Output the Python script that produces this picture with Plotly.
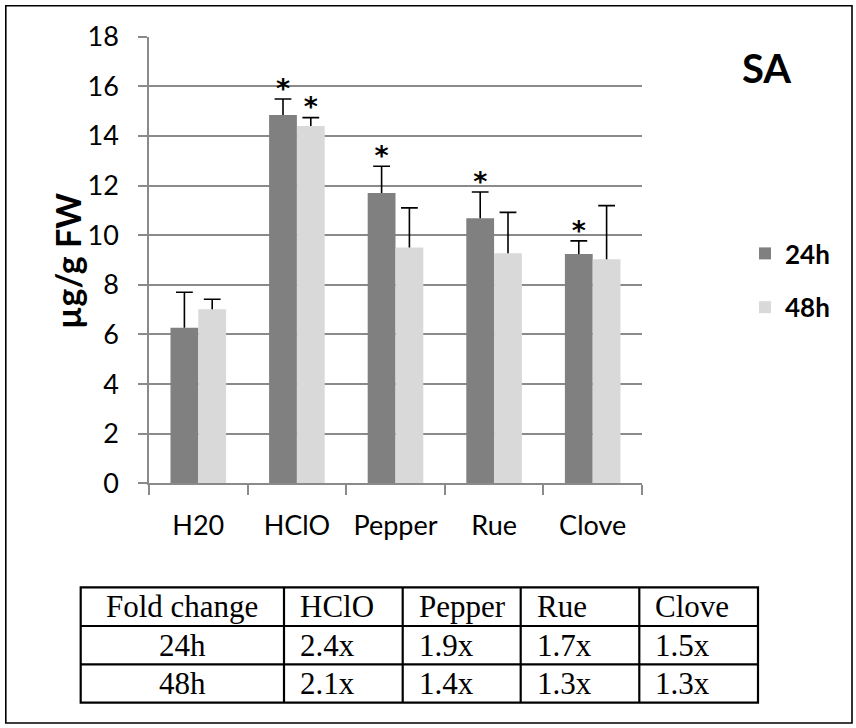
import plotly.graph_objects as go

# Salicylic acid content (µg/g FW) after treatment
treatments = ["H20", "HClO", "Pepper", "Rue", "Clove"]
sa_24h = [6.27, 14.84, 11.70, 10.68, 9.24]
sa_24h_err = [1.43, 0.65, 1.08, 1.06, 0.53]
sa_48h = [7.01, 14.40, 9.50, 9.27, 9.03]
sa_48h_err = [0.41, 0.34, 1.60, 1.65, 2.16]
# significance flags (drawn as asterisks above the error bars)
sig_24h = [False, True, True, True, True]
sig_48h = [False, True, False, False, False]

# fold-change table
table_header = ["Fold change", "HClO", "Pepper", "Rue", "Clove"]
table_rows = [
    ["24h", "2.4x", "1.9x", "1.7x", "1.5x"],
    ["48h", "2.1x", "1.4x", "1.3x", "1.3x"],
]

W, H = 856, 728
DARK, LIGHT = "#808080", "#d9d9d9"
GRID = "#8a8a8a"
FONT = "Lato"
SERIF = "Liberation Serif"

# table grid (pixels from top-left of the figure)
TABLE_COL_EDGES = [80.7, 284, 402.7, 520.7, 639.3, 758]
TABLE_ROW_EDGES = [587.3, 626, 664.3, 702.7]
TABLE_PAD = 14


def px_x(x):
    return x / W


def px_y(y):
    return 1 - y / H


fig = go.Figure()

series = [
    ("24h", sa_24h, sa_24h_err, sig_24h, DARK),
    ("48h", sa_48h, sa_48h_err, sig_48h, LIGHT),
]

for name, vals, errs, sig, color in series:
    fig.add_trace(go.Bar(
        name=name, x=treatments, y=vals,
        marker=dict(color=color, line=dict(width=0)),
        offsetgroup=name, legendgroup=name,
        error_y=dict(type="data", array=errs, arrayminus=[0] * len(errs),
                     symmetric=False, width=0, thickness=1.6, color="black"),
        hoverinfo="x+y",
    ))

for name, vals, errs, sig, color in series:
    tops = [v + e for v, e in zip(vals, errs)]
    # error bar caps
    fig.add_trace(go.Scatter(
        x=treatments, y=tops, mode="markers",
        marker=dict(symbol="line-ew", size=12, line=dict(width=1.6, color="black")),
        offsetgroup=name, showlegend=False, hoverinfo="skip",
    ))
    # asterisks
    fig.add_trace(go.Scatter(
        x=[t for t, s in zip(treatments, sig) if s],
        y=[tp + 0.32 for tp, s in zip(tops, sig) if s],
        mode="text", text=["*"] * sum(sig),
        textposition="middle center",
        textfont=dict(family="DejaVu Sans", size=27, color="black", weight="bold"),
        offsetgroup=name, showlegend=False, hoverinfo="skip",
    ))

# fold-change table: grid lines and cell text
shapes = [
    dict(type="rect", xref="paper", yref="paper",
         x0=px_x(5.8), x1=px_x(852), y0=px_y(723), y1=px_y(5.8),
         line=dict(color="black", width=1.6), fillcolor="rgba(0,0,0,0)",
         layer="below"),
    dict(type="rect", xref="paper", yref="paper",
         x0=px_x(TABLE_COL_EDGES[0]), x1=px_x(TABLE_COL_EDGES[-1]),
         y0=px_y(TABLE_ROW_EDGES[-1]), y1=px_y(TABLE_ROW_EDGES[0]),
         line=dict(color="black", width=2.2), fillcolor="rgba(0,0,0,0)"),
]
for xe in TABLE_COL_EDGES[1:-1]:
    shapes.append(dict(type="line", xref="paper", yref="paper",
                       x0=px_x(xe), x1=px_x(xe),
                       y0=px_y(TABLE_ROW_EDGES[-1]), y1=px_y(TABLE_ROW_EDGES[0]),
                       line=dict(color="black", width=2.2)))
for ye in TABLE_ROW_EDGES[1:-1]:
    shapes.append(dict(type="line", xref="paper", yref="paper",
                       x0=px_x(TABLE_COL_EDGES[0]), x1=px_x(TABLE_COL_EDGES[-1]),
                       y0=px_y(ye), y1=px_y(ye),
                       line=dict(color="black", width=2.2)))

annotations = [
    dict(text="µg/g FW", textangle=-90, xref="paper", yref="paper",
         x=px_x(67), y=px_y(261), xanchor="center", yanchor="middle",
         showarrow=False,
         font=dict(family=FONT, size=34, color="black", weight="bold")),
    dict(text="SA", xref="paper", yref="paper",
         x=px_x(766), y=px_y(68), xanchor="center", yanchor="middle",
         showarrow=False,
         font=dict(family=FONT, size=40, color="black", weight="bold")),
]

for r, row in enumerate([table_header] + table_rows):
    yc = (TABLE_ROW_EDGES[r] + TABLE_ROW_EDGES[r + 1]) / 2
    for c, txt in enumerate(row):
        x0, x1 = TABLE_COL_EDGES[c], TABLE_COL_EDGES[c + 1]
        if c == 0:
            xa, anchor = (x0 + x1) / 2, "center"
        else:
            xa, anchor = x0 + TABLE_PAD, "left"
        annotations.append(dict(
            text=txt, xref="paper", yref="paper",
            x=px_x(xa), y=px_y(yc), xanchor=anchor, yanchor="middle",
            showarrow=False,
            font=dict(family=SERIF, size=31, color="black"),
        ))

fig.update_layout(
    template="none",
    width=W, height=H,
    margin=dict(l=0, r=0, t=0, b=0, autoexpand=False),
    paper_bgcolor="white", plot_bgcolor="white",
    barmode="group", bargap=0.436, bargroupgap=0,
    scattermode="group", scattergap=0.436,
    font=dict(family=FONT, color="black"),
    showlegend=True,
    legend=dict(x=px_x(745), y=px_y(230), xanchor="left", yanchor="top",
                font=dict(family=FONT, size=26, color="black", weight="bold"),
                tracegroupgap=17, bgcolor="rgba(0,0,0,0)", borderwidth=0),
    xaxis=dict(
        domain=[px_x(149), px_x(642)], automargin=False,
        type="category", tickson="boundaries",
        ticks="outside", ticklen=10, tickcolor=GRID, tickwidth=1.5,
        showline=True, linecolor=GRID, linewidth=1.5,
        tickfont=dict(family=FONT, size=27, color="black"),
        ticklabelstandoff=18, showgrid=False, zeroline=False,
    ),
    yaxis=dict(
        domain=[px_y(483.3), px_y(36.7)], automargin=False,
        range=[0, 18], dtick=2, tick0=0,
        ticks="outside", ticklen=9, tickcolor=GRID, tickwidth=1.5,
        showline=True, linecolor=GRID, linewidth=1.5,
        showgrid=True, gridcolor=GRID, gridwidth=1.5,
        zeroline=False,
        tickfont=dict(family=FONT, size=27, color="black"),
        ticklabelstandoff=14,
    ),
    annotations=annotations,
    shapes=shapes,
)

fig.write_html("out.html")
